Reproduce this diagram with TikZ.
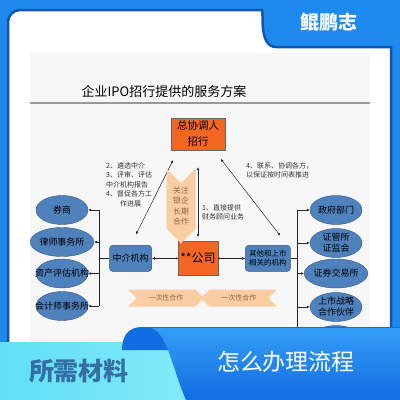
\documentclass[tikz,border=0pt]{standalone}
\usepackage{fontspec}
\setmainfont{Noto Sans CJK SC}
\usetikzlibrary{arrows.meta, positioning, shapes.geometric, shapes.symbols}
\definecolor{marco}{RGB}{30,138,238}
\definecolor{marcoosc}{RGB}{14,86,178}
\definecolor{naranja}{RGB}{242,102,34}
\definecolor{azulcaja}{RGB}{79,129,189}
\definecolor{bordeazul}{RGB}{50,86,132}
\definecolor{melocoton}{RGB}{250,206,162}
\definecolor{cafe}{RGB}{140,100,62}
\definecolor{cian}{RGB}{96,224,246}
\definecolor{cianclaro}{RGB}{170,242,252}
\definecolor{banda}{RGB}{52,158,246}
\definecolor{bandaosc}{RGB}{18,108,226}
\definecolor{textoazul}{RGB}{52,110,165}

\begin{document}
\begin{tikzpicture}[x=1pt, y=-1pt,
  node distance=26pt,
  caja/.style={draw=bordeazul, fill=azulcaja, rounded corners=3pt, minimum width=42pt,
               minimum height=26pt, inner sep=1pt, align=center, font=\fontsize{9}{10}\selectfont},
  jefe/.style={draw=black!60, fill=naranja, minimum width=54pt, minimum height=32pt,
               inner sep=1pt, align=center},
  elipse/.style={ellipse, draw=bordeazul, fill=azulcaja, minimum width=52pt, minimum height=29pt,
                 inner sep=0pt, align=center, font=\fontsize{9}{11}\selectfont},
  cinta/.style={signal, fill=melocoton, align=center, text=cafe},
  nota/.style={font=\fontsize{7}{9.5}\selectfont, align=left, text=black!80, inner sep=0pt, anchor=north west},
  linea/.style={black!85, line width=0.5pt},
  flecha/.style={-{Latex[length=3pt,width=2.6pt]}, linea},
  doble/.style={{Latex[length=3pt,width=2.6pt]}-{Latex[length=3pt,width=2.6pt]}, linea},
  punto/.style={{Circle[length=2pt]}-{Latex[length=3pt,width=2.6pt]}, linea}
]
\useasboundingbox (0,0) rectangle (400,400);
\fill[marco] (0,0) rectangle (400,400);
\filldraw[fill=white, draw=marcoosc, line width=2.5pt] (8,402) [rounded corners=12pt] -- (8,10) -- (250,10)
  [sharp corners] .. controls (264,10) and (258,47) .. (276,47) -- (391,47) -- (391,402);
\fill[black!3] (30,53) rectangle (370,342);
\node[text=white, font=\fontsize{19}{19}\selectfont\bfseries] (marca) at (329,22) {鲲鹏志};

\node[font=\fontsize{13}{13}\selectfont] (titulo) at (164,92) {企业IPO招行提供的服务方案};
\draw[black!40, line width=2.5pt] (30,103) -- (370,103);

\node[jefe, font=\fontsize{10.5}{16}\selectfont] (coord) at (198,134) {总协调人\\招行};
\node[jefe, minimum width=40pt, minimum height=34pt, below=91pt of coord,
      font=\fontsize{12}{12}\selectfont] (cia) {**公司};
\node[caja, left=26pt of cia] (inter) {中介机构};
\node[caja, right=27pt of cia, minimum width=45pt, font=\fontsize{7.5}{9}\selectfont] (otros) {其他和上市\\相关的机构};

\node[elipse] (e1) at (62,210) {券商};
\node[elipse] (e2) at (62,242) {律师事务所};
\node[elipse] (e3) at (62,273.5) {\makebox[0pt]{资产评估机构}};
\node[elipse] (e4) at (62,306) {\makebox[0pt]{会计师事务所}};

\node[elipse] (d1) at (336,210) {政府部门};
\node[elipse] (d2) at (336,243) {证管所\\证监会};
\node[elipse] (d3) at (336,273.5) {证券交易所};
\node[elipse] (d4) at (336,307) {上市战略\\合作伙伴};
\node[elipse] (d5) at (336,340) {};

\coordinate[left=10pt of inter.west] (busL);
\draw[linea] (inter.west) -- (busL);
\draw[linea] (busL |- e1.east) -- (busL |- e4.east);
\foreach \e in {e1,e2,e3,e4}
  \draw[flecha] (busL |- \e.east) -- (\e.east);

\coordinate[right=7pt of otros.east] (busR);
\draw[linea] (otros.east) -- (busR);
\draw[linea] (busR |- d1.west) -- (busR |- d5.west);
\foreach \d in {d1,d2,d3,d4,d5}
  \draw[flecha] (busR |- \d.west) -- (\d.west);

\draw[punto] (cia.west) -- (inter.east);
\draw[punto] (cia.east) -- (otros.west);
\draw[doble, shorten <=12pt, shorten >=11pt] (inter.north) -- ([xshift=-20pt]coord.south);
\draw[doble, shorten <=12pt, shorten >=11pt] ([xshift=-3pt]otros.north east) -- ([xshift=16pt]coord.south);
\draw[doble, shorten <=4pt, shorten >=17pt] (cia.north) -- (coord.south);

\node[cinta, signal to=south, signal from=north, minimum width=29pt, inner xsep=5pt, inner ysep=4pt,
      font=\fontsize{7.8}{10.2}\selectfont] (banco) at (181,206) {关注\\银企\\长期\\合作};
\node[cinta, signal to=east, signal from=west, inner xsep=12pt, inner ysep=0pt, minimum height=17pt,
      font=\fontsize{7}{8}\selectfont] (unaizq) at (166,298) {一次性合作};
\node[cinta, signal to=west, signal from=east, inner xsep=12pt, inner ysep=0pt, minimum height=17pt,
      font=\fontsize{7}{8}\selectfont] (unader) at (239,298) {一次性合作};

\node[nota] (nota2) at (106,162) {2、遴选中介\\3、评审、评估\\中介机构报告\\4、督促各方工\\\hspace*{14pt}作进展};
\node[nota] (nota4) at (246,162) {4、联系、协调各方，\\以保证按时间表推进};
\node[nota] (nota1) at (202,204) {1、直接提供\\财务顾问业务};

\shade[left color=cian, right color=cianclaro] (0,342) rectangle (400,400);
\fill[bandaosc] (122,350) .. controls (122,334) and (130,327) .. (142,327) -- (400,327) -- (400,350) -- cycle;
\shade[top color=banda, bottom color=bandaosc] (152,328) -- (400,328) -- (400,400) -- (186,400)
  .. controls (172,368) and (168,335) .. (152,328);
\node[text=textoazul, font=\fontsize{25}{25}\selectfont\bfseries] (materiales) at (79,371) {所需材料};
\node[text=white, font=\fontsize{23}{23}\selectfont] (proceso) at (286,362) {怎么办理流程};
\end{tikzpicture}
\end{document}
